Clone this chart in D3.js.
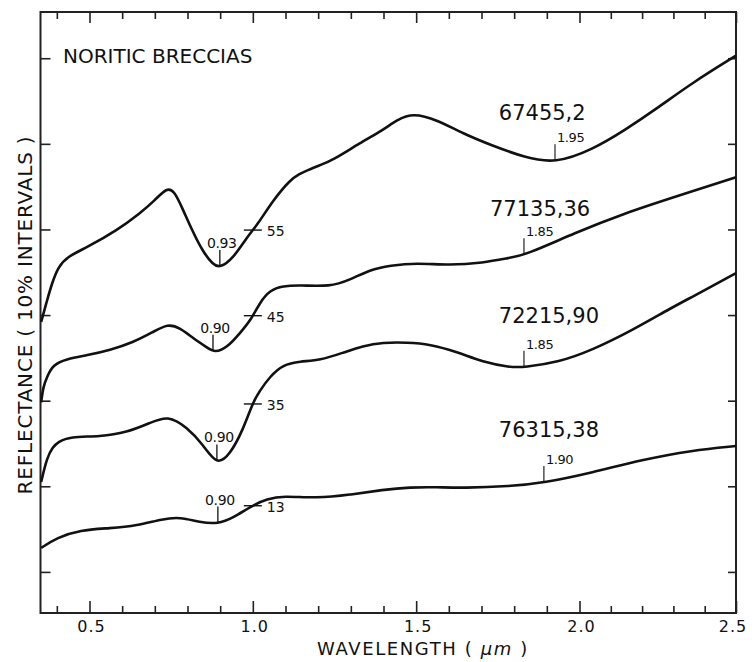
<!DOCTYPE html>
<html>
<head>
<meta charset="utf-8">
<script src="https://cdn.jsdelivr.net/npm/d3@7"></script>
<style>
  body { margin: 0; background: #fff; }
  text { font-family: "DejaVu Sans", sans-serif; fill: #111; }
</style>
</head>
<body>
<div class="chart"></div>
<script>
// sample names, top to bottom
const sampleNames = ["67455,2", "77135,36", "72215,90", "76315,38"];

// wavelength (um) / relative reflectance (%, offset curves, 10% per tick)
const wave67455 = [0.352, 0.370, 0.385, 0.404, 0.431, 0.492, 0.584, 0.655, 0.700, 0.737, 0.759, 0.783, 0.814, 0.847, 0.878, 0.899, 0.939, 0.982, 1.013, 1.062, 1.114, 1.144, 1.166, 1.205, 1.245, 1.328, 1.398, 1.441, 1.490, 1.564, 1.643, 1.732, 1.833, 1.925, 2.040, 2.145, 2.254, 2.359, 2.50];
const refl67455 = [29.2, 31.7, 33.7, 35.6, 36.8, 37.9, 39.9, 41.9, 43.4, 44.9, 44.5, 42.6, 39.9, 37.4, 35.9, 35.5, 36.6, 39.1, 40.5, 43.4, 45.8, 46.5, 46.9, 47.5, 48.1, 50.1, 51.6, 52.8, 53.6, 52.8, 51.2, 49.8, 48.4, 47.7, 49.3, 51.6, 54.3, 57.1, 60.3];

const wave77135 = [0.352, 0.358, 0.370, 0.388, 0.431, 0.492, 0.563, 0.633, 0.694, 0.740, 0.777, 0.817, 0.860, 0.884, 0.921, 0.961, 0.997, 1.022, 1.052, 1.092, 1.144, 1.236, 1.297, 1.358, 1.420, 1.502, 1.603, 1.704, 1.787, 1.833, 1.986, 2.145, 2.305, 2.50];
const refl77135 = [19.8, 21.6, 22.8, 24.2, 24.9, 25.3, 25.9, 26.8, 28.0, 29.0, 28.5, 27.3, 26.2, 25.6, 26.2, 27.9, 29.6, 31.5, 32.9, 33.4, 33.5, 33.3, 34.1, 35.3, 35.8, 36.1, 35.8, 36.1, 36.7, 37.0, 39.6, 41.9, 43.8, 46.1];

const wave72215 = [0.352, 0.370, 0.388, 0.404, 0.440, 0.532, 0.615, 0.685, 0.740, 0.798, 0.847, 0.890, 0.930, 0.970, 1.000, 1.022, 1.052, 1.092, 1.144, 1.205, 1.276, 1.337, 1.398, 1.472, 1.542, 1.625, 1.704, 1.787, 1.830, 1.937, 2.040, 2.168, 2.296, 2.359, 2.50];
const refl72215 = [10.5, 13.4, 14.6, 15.2, 15.8, 15.8, 16.3, 17.4, 18.3, 16.9, 14.9, 12.4, 13.7, 16.6, 19.8, 21.2, 22.8, 24.2, 24.6, 24.7, 25.6, 26.4, 26.8, 26.8, 26.6, 25.7, 24.5, 23.9, 23.9, 24.5, 25.9, 28.2, 30.9, 32.1, 34.9];

const wave76315 = [0.352, 0.400, 0.471, 0.563, 0.645, 0.725, 0.777, 0.838, 0.893, 0.939, 1.000, 1.043, 1.092, 1.196, 1.297, 1.398, 1.481, 1.564, 1.643, 1.787, 1.891, 2.040, 2.200, 2.359, 2.50];
const refl76315 = [2.8, 4.0, 4.9, 5.1, 5.4, 6.2, 6.4, 5.8, 5.6, 6.3, 7.8, 8.5, 8.9, 8.6, 9.0, 9.6, 9.9, 9.9, 9.8, 10.0, 10.4, 11.6, 13.1, 14.2, 14.7];

// band minima marked on each curve
const band1Wave = [0.899, 0.878, 0.890, 0.893];
const band1Text = ["0.93", "0.90", "0.90", "0.90"];
const band2Wave = [1.925, 1.830, 1.830, 1.891];
const band2Text = ["1.95", "1.85", "1.85", "1.90"];
// absolute reflectance (%) at 1.0 um
const scaleMarkWave = 1.0;
const scaleMarkText = ["55", "45", "35", "13"];
// where each sample name sits (wavelength, reflectance)
const nameWave = [1.753, 1.726, 1.753, 1.753];
const nameRefl = [52.8, 41.6, 29.1, 15.8];

const xMajor = [0.5, 1.0, 1.5, 2.0, 2.5];
const xMinor = d3.range(4, 25).map(i => i / 10).filter(v => Math.abs(v * 2 - Math.round(v * 2)) > 1e-6);
const yTicks = [0, 10, 20, 30, 40, 50, 60];

const waves = [wave67455, wave77135, wave72215, wave76315];
const refls = [refl67455, refl77135, refl72215, refl76315];

const width = 752, height = 662;
const x = d3.scaleLinear().domain([0.35, 2.0, 2.5]).range([40.5, 579.5, 736]);
const y = d3.scaleLinear().domain([-4.8, 65.4]).range([613, 12]);
const xL = x(0.35), xR = x(2.5), yT = y(65.4), yB = y(-4.8);

const svg = d3.select(".chart").append("svg")
    .attr("width", width)
    .attr("height", height);

// frame
svg.append("rect")
    .attr("x", xL).attr("y", yT)
    .attr("width", xR - xL).attr("height", yB - yT)
    .attr("fill", "none")
    .attr("stroke", "#222")
    .attr("stroke-width", 2);

function tickAxis(axis, transform) {
    const g = svg.append("g").attr("transform", transform).call(axis);
    g.select(".domain").remove();
    g.selectAll("line").attr("stroke", "#222").attr("stroke-width", 1.6);
    g.selectAll("text").remove();
    return g;
}

tickAxis(d3.axisBottom(x).tickValues(xMinor).tickSize(-7), `translate(0,${yB})`);
tickAxis(d3.axisBottom(x).tickValues(xMajor).tickSize(-12), `translate(0,${yB})`);
tickAxis(d3.axisTop(x).tickValues(xMinor).tickSize(-7), `translate(0,${yT})`);
tickAxis(d3.axisTop(x).tickValues(xMajor).tickSize(-11), `translate(0,${yT})`);
tickAxis(d3.axisLeft(y).tickValues(yTicks).tickSize(-10), `translate(${xL},0)`);
tickAxis(d3.axisRight(y).tickValues(yTicks).tickSize(-8), `translate(${xR},0)`);

// x tick labels
svg.append("g")
    .selectAll("text")
    .data(xMajor)
    .join("text")
    .attr("x", d => x(d) - (d === 2.5 ? 3 : -2))
    .attr("y", yB + 19)
    .attr("text-anchor", "middle")
    .attr("font-size", 16)
    .attr("letter-spacing", 1)
    .text(d3.format(".1f"));

// axis titles
const xt = svg.append("text")
    .attr("x", 423)
    .attr("y", 655)
    .attr("text-anchor", "middle")
    .attr("font-size", 18)
    .attr("letter-spacing", 1.6);
xt.append("tspan").text("WAVELENGTH ( ");
xt.append("tspan").attr("font-style", "italic").text("µm");
xt.append("tspan").text(" )");

svg.append("text")
    .attr("transform", "translate(32,315) rotate(-90)")
    .attr("text-anchor", "middle")
    .attr("font-size", 20)
    .attr("letter-spacing", 0.8)
    .text("REFLECTANCE ( 10% INTERVALS )");

svg.append("text")
    .attr("x", 63)
    .attr("y", 63)
    .attr("font-size", 20)
    .text("NORITIC BRECCIAS");

// spectra, drawn as smooth hand-traced curves
const line = d3.line()
    .x(d => x(d[0]))
    .y(d => y(d[1]))
    .curve(d3.curveBasis);

const paths = svg.append("g")
    .attr("fill", "none")
    .attr("stroke", "#111")
    .attr("stroke-width", 2.6)
    .attr("stroke-linejoin", "round")
    .selectAll("path")
    .data(waves.map((w, i) => d3.zip(w, refls[i])))
    .join("path")
    .attr("d", line)
    .nodes();

function pointAtX(node, px) {
    let lo = 0, hi = node.getTotalLength();
    for (let k = 0; k < 40; k++) {
        const mid = (lo + hi) / 2;
        if (node.getPointAtLength(mid).x < px) lo = mid; else hi = mid;
    }
    return node.getPointAtLength(lo);
}

const ann = svg.append("g");

paths.forEach((node, i) => {
    // first band
    const p1 = pointAtX(node, x(band1Wave[i]));
    ann.append("line")
        .attr("x1", p1.x).attr("x2", p1.x)
        .attr("y1", p1.y).attr("y2", p1.y - 16)
        .attr("stroke", "#111").attr("stroke-width", 1.3);
    ann.append("text")
        .attr("x", p1.x + 2).attr("y", p1.y - 18)
        .attr("text-anchor", "middle")
        .attr("font-size", 14)
        .attr("letter-spacing", -0.4)
        .text(band1Text[i]);

    // second band
    const p2 = pointAtX(node, x(band2Wave[i]));
    ann.append("line")
        .attr("x1", p2.x).attr("x2", p2.x)
        .attr("y1", p2.y).attr("y2", p2.y - 16)
        .attr("stroke", "#111").attr("stroke-width", 1.1);
    ann.append("text")
        .attr("x", p2.x + 2).attr("y", p2.y - 18)
        .attr("font-size", 13)
        .attr("letter-spacing", -0.4)
        .text(band2Text[i]);

    // absolute scale mark
    const p3 = pointAtX(node, x(scaleMarkWave));
    ann.append("line")
        .attr("x1", p3.x - 9).attr("x2", p3.x + 9)
        .attr("y1", p3.y).attr("y2", p3.y)
        .attr("stroke", "#111").attr("stroke-width", 1.4);
    ann.append("text")
        .attr("x", p3.x + 14).attr("y", p3.y + 6)
        .attr("font-size", 14)
        .text(scaleMarkText[i]);

    // sample name
    ann.append("text")
        .attr("x", x(nameWave[i]))
        .attr("y", y(nameRefl[i]))
        .attr("font-size", 21)
        .text(sampleNames[i]);
});
</script>
</body>
</html>
